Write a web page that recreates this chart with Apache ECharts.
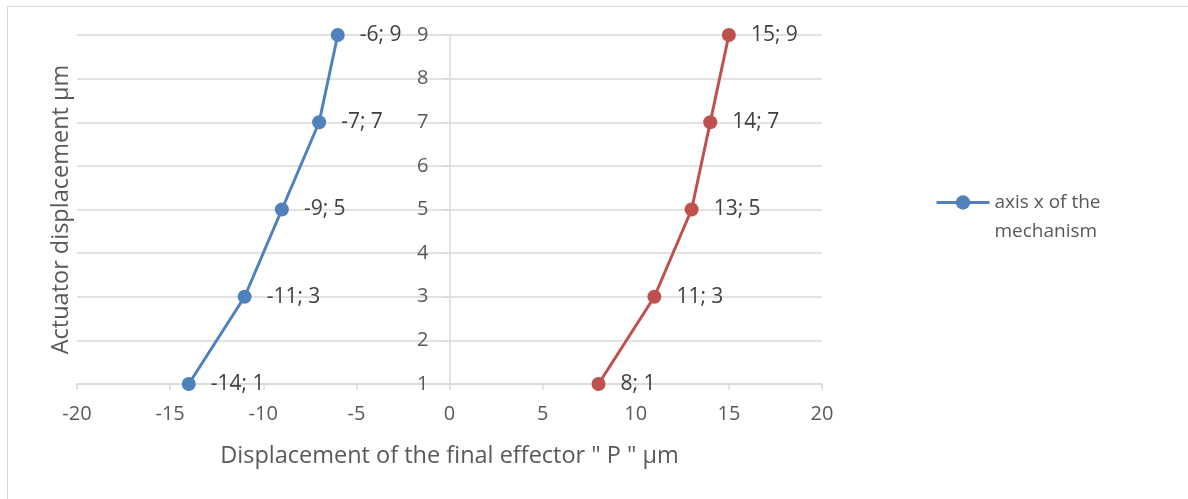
<!DOCTYPE html>
<html>
<head>
<meta charset="utf-8">
<script src="https://cdn.jsdelivr.net/npm/echarts@6/dist/echarts.min.js"></script>
<style>
  html, body { margin: 0; padding: 0; background: #fff; }
  #chart { width: 1188px; height: 499px; }
</style>
</head>
<body>
<div id="chart"></div>
<script>
// Displacement of the final effector (x) against actuator displacement (y)
const actuator = [1, 3, 5, 7, 9];
const effectorNeg = [-14, -11, -9, -7, -6];
const effectorPos = [8, 11, 13, 14, 15];

const seriesNames = ['axis x of the mechanism', 'axis x (positive)'];
const xTitle = 'Displacement of the final effector " P " µm';
const yTitle = 'Actuator displacement µm';

const FONT = '"Open Sans", "Liberation Sans", sans-serif';
const TEXT = '#595959';
const LABEL = '#404040';
const GRID = '#d9d9d9';
const GRID_LEFT = 77;

function pairs(xs, ys) { return xs.map((x, i) => [x, ys[i]]); }

const labelCfg = {
  show: true,
  position: 'right',
  distance: 15,
  color: LABEL,
  fontFamily: FONT,
  fontSize: 21,
  formatter: p => p.value[0] + '; ' + p.value[1]
};

const chart = echarts.init(document.getElementById('chart'), null, { renderer: 'canvas' });
const option = {
  animation: false,
  backgroundColor: '#fff',
  graphic: [{
    type: 'rect',
    shape: { x: 7.5, y: 6.5, width: 1300, height: 600 },
    style: { fill: 'none', stroke: GRID, lineWidth: 1 },
    silent: true
  }],
  legend: {
    data: [seriesNames[0]],
    left: 930,
    top: 154,
    itemWidth: 53,
    itemHeight: 18,
    itemGap: 6,
    lineStyle: { width: 3 },
    textStyle: { color: TEXT, fontFamily: FONT, fontSize: 19, lineHeight: 29 },
    // an empty first line keeps the marker level with the first line of the name
    formatter: () => ' \naxis x of the\nmechanism'
  },
  grid: { left: GRID_LEFT, right: 366, top: 35, bottom: 115, containLabel: false },
  xAxis: {
    type: 'value',
    min: -20, max: 20, interval: 5,
    name: xTitle,
    nameLocation: 'middle',
    nameGap: 60,
    nameTextStyle: { color: TEXT, fontFamily: FONT, fontSize: 23.5 },
    axisLine: { show: true, lineStyle: { color: GRID, width: 1.5 } },
    axisTick: { show: true, length: 6, lineStyle: { color: GRID, width: 1.5 } },
    axisLabel: { color: TEXT, fontFamily: FONT, fontSize: 20, margin: 20 },
    splitLine: { show: false }
  },
  yAxis: [{
    // value axis drawn through x = 0, labels on its left side
    type: 'value',
    min: 1, max: 9, interval: 1,
    position: 'left',
    offset: 0,
    axisLine: { show: true, onZero: false, lineStyle: { color: GRID, width: 1.5 } },
    axisTick: { show: true, length: 6, lineStyle: { color: GRID, width: 1.5 } },
    axisLabel: { color: TEXT, fontFamily: FONT, fontSize: 20, margin: 21 },
    splitLine: { show: true, lineStyle: { color: GRID, width: 1.5 } }
  }, {
    // carries only the title at the left edge of the plot
    type: 'value',
    min: 1, max: 9, interval: 1,
    position: 'left',
    name: yTitle,
    nameLocation: 'middle',
    nameGap: 4,
    nameRotate: 90,
    nameTextStyle: { color: TEXT, fontFamily: FONT, fontSize: 23.5 },
    axisLine: { show: false, onZero: false },
    axisTick: { show: false },
    axisLabel: { show: false },
    splitLine: { show: false }
  }],
  series: [{
    name: seriesNames[0],
    type: 'line',
    data: pairs(effectorNeg, actuator),
    symbol: 'circle',
    symbolSize: 14,
    color: '#4F81BD',
    lineStyle: { width: 3, color: '#4F81BD' },
    itemStyle: { color: '#4F81BD' },
    label: labelCfg,
    z: 3
  }, {
    name: seriesNames[1],
    type: 'line',
    data: pairs(effectorPos, actuator),
    symbol: 'circle',
    symbolSize: 14,
    color: '#C0504D',
    lineStyle: { width: 3, color: '#C0504D' },
    itemStyle: { color: '#C0504D' },
    label: labelCfg,
    z: 3
  }]
};
chart.setOption(option);

// shift the value axis so it crosses the horizontal axis at x = 0
const zeroPx = chart.convertToPixel({ xAxisIndex: 0 }, 0);
chart.setOption({ yAxis: [{ offset: GRID_LEFT - zeroPx }, {}] });
</script>
</body>
</html>
